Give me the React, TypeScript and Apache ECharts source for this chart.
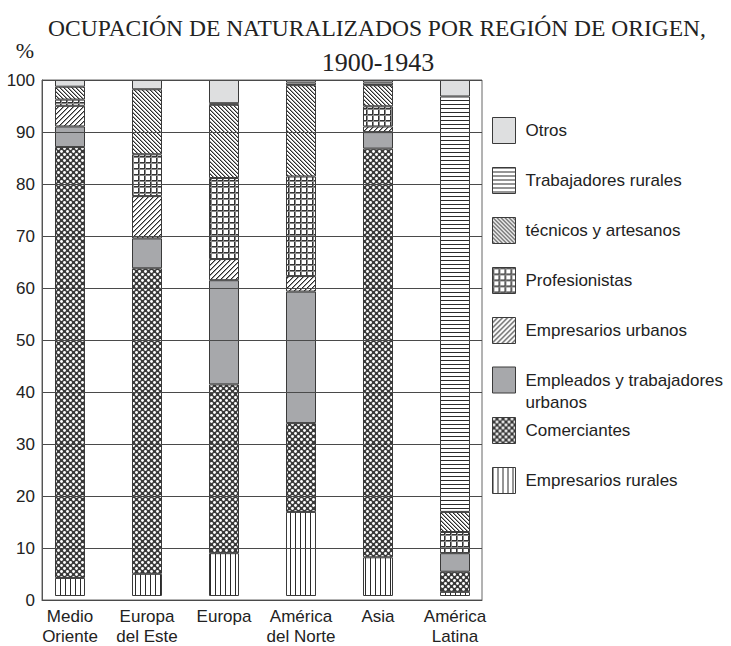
import React, { useEffect, useRef } from "react";
import * as echarts from "echarts";

const categories = ["Medio\nOriente", "Europa\ndel Este", "Europa", "América\ndel Norte", "Asia", "América\nLatina"];
const yTicks = [0, 10, 20, 30, 40, 50, 60, 70, 80, 90, 100];

// stacked from bottom to top
const empresariosRurales = [3.5, 4.3, 8.3, 16.3, 7.5, 0.8];
const comerciantes = [83.5, 59.2, 32.7, 17.2, 79.2, 3.9];
const empleados = [4.0, 5.8, 20.2, 25.5, 3.2, 3.6];
const empresariosUrbanos = [4.0, 8.2, 4.1, 3.0, 1.1, 0];
const profesionistas = [1.2, 8.1, 15.7, 19.3, 3.9, 4.1];
const tecnicos = [2.5, 12.6, 14.2, 17.7, 4.1, 3.9];
const trabajadoresRurales = [0, 0, 0.3, 0.5, 0.5, 80.5];
const otros = [1.3, 1.8, 4.5, 0.5, 0.5, 3.2];

const seriesNames = [
  "Empresarios rurales",
  "Comerciantes",
  "Empleados y trabajadores urbanos",
  "Empresarios urbanos",
  "Profesionistas",
  "técnicos y artesanos",
  "Trabajadores rurales",
  "Otros",
];
const seriesValues = [empresariosRurales, comerciantes, empleados, empresariosUrbanos, profesionistas, tecnicos, trabajadoresRurales, otros];
const legendOrder = [
  "Otros",
  "Trabajadores rurales",
  "técnicos y artesanos",
  "Profesionistas",
  "Empresarios urbanos",
  "Empleados y trabajadores urbanos",
  "Comerciantes",
  "Empresarios rurales",
];
const TWO_LINE = "Empleados y trabajadores urbanos";

function tile(size: number, draw: (ctx: CanvasRenderingContext2D, s: number) => void) {
  const c = document.createElement("canvas");
  c.width = size;
  c.height = size;
  const ctx = c.getContext("2d") as CanvasRenderingContext2D;
  ctx.fillStyle = "#ffffff";
  ctx.fillRect(0, 0, size, size);
  draw(ctx, size);
  return { image: c, repeat: "repeat", imageWidth: size, imageHeight: size } as any;
}

function makeFills() {
  const dark = "#2b2b2b";
  const vertical = tile(5, (ctx, s) => {
    ctx.fillStyle = dark;
    ctx.fillRect(0, 0, 1, s);
  });
  const cross = tile(6, (ctx, s) => {
    ctx.fillStyle = "#3a3a3a";
    ctx.fillRect(0, 0, s, s);
    ctx.fillStyle = "#ffffff";
    ctx.beginPath();
    ctx.arc(1.5, 1.5, 1.45, 0, Math.PI * 2);
    ctx.fill();
    ctx.beginPath();
    ctx.arc(4.5, 4.5, 1.45, 0, Math.PI * 2);
    ctx.fill();
  });
  const fwd = tile(5, (ctx, s) => {
    for (let i = 0; i < s; i++) {
      ctx.fillStyle = dark;
      ctx.fillRect(s - 1 - i, i, 1, 1);
      ctx.fillStyle = "#9a9a9a";
      ctx.fillRect((s - i) % s, i, 1, 1);
    }
  });
  const back = tile(4, (ctx, s) => {
    for (let i = 0; i < s; i++) {
      ctx.fillStyle = dark;
      ctx.fillRect(i, i, 1, 1);
      ctx.fillStyle = "#a0a0a0";
      ctx.fillRect((i + 1) % s, i, 1, 1);
    }
  });
  const grid = tile(6, (ctx, s) => {
    ctx.fillStyle = "#333";
    ctx.fillRect(0, 0, s, 1);
    ctx.fillRect(0, 0, 1, s);
    ctx.fillStyle = "#8a8a8a";
    ctx.fillRect(0, 1, s, 1);
    ctx.fillRect(1, 0, 1, s);
  });
  const horiz = tile(4, (ctx, s) => {
    ctx.fillStyle = dark;
    ctx.fillRect(0, 0, s, 1);
  });
  return [vertical, cross, "#a7a8ab", fwd, grid, back, horiz, "#dedfe0"];
}

export default function App() {
  const ref = useRef<HTMLDivElement>(null);
  useEffect(() => {
    if (!ref.current) return;
    const chart = echarts.init(ref.current, undefined, { renderer: "svg" });
    const fills = makeFills();
    const sans = "'Liberation Sans', Arial, sans-serif";
    const serif = "'Liberation Serif', 'Times New Roman', serif";

    const series = seriesNames.map((name, si) => ({
      name,
      type: "bar",
      stack: "total",
      barWidth: 30,
      xAxisIndex: 1,
      yAxisIndex: 1,
      itemStyle: { color: fills[si], borderColor: "#3a3a3a", borderWidth: 1 },
      data: seriesValues[si].map((v) => (v === 0 ? "-" : v)),
    }));

    const legends = legendOrder.map((name, i) => ({
      data: [name],
      orient: "vertical",
      left: 492,
      top: name === TWO_LINE ? 117 + i * 50 - 20 : 117 + i * 50,
      padding: 0,
      icon: "rect",
      itemWidth: 23,
      itemHeight: 26,
      selectedMode: false,
      itemStyle: { borderColor: "#3a3a3a", borderWidth: 1 },
      formatter: (n: string) => (n === TWO_LINE ? " \nEmpleados y trabajadores\nurbanos" : n),
      textStyle: {
        fontFamily: sans,
        fontSize: 17,
        color: "#222",
        lineHeight: 22,
        padding: [0, 0, 0, 5],
      },
    }));

    chart.setOption({
      animation: false,
      backgroundColor: "#ffffff",
      graphic: [
        {
          type: "text",
          x: 377,
          y: 28,
          style: {
            text: "OCUPACIÓN DE NATURALIZADOS POR REGIÓN DE ORIGEN,",
            fontFamily: serif,
            fontSize: 23.5,
            fill: "#222",
            align: "center",
            verticalAlign: "middle",
          },
        },
        {
          type: "text",
          x: 378,
          y: 62,
          style: { text: "1900-1943", fontFamily: serif, fontSize: 26, fill: "#222", align: "center", verticalAlign: "middle" },
        },
        {
          type: "text",
          x: 25,
          y: 50,
          style: { text: "%", fontFamily: serif, fontSize: 22, fill: "#222", align: "center", verticalAlign: "middle" },
        },
      ],
      legend: legends,
      grid: [
        {
          left: 42,
          top: 80,
          right: 249,
          bottom: 46,
          show: true,
          borderColor: "#666",
          borderWidth: 1,
          backgroundColor: "transparent",
        },
        {
          left: 31.5,
          top: 80,
          right: 237.5,
          bottom: 46,
        },
      ],
      xAxis: [
        {
          gridIndex: 0,
          type: "value",
          min: 0,
          max: 1,
          axisLine: { show: true, onZero: false, lineStyle: { color: "#555", width: 1 } },
          axisTick: { show: false },
          splitLine: { show: false },
          axisLabel: { show: false },
        },
        {
          gridIndex: 1,
          type: "category",
          data: categories,
          axisLine: { show: false },
          axisTick: { show: false },
          splitLine: { show: false },
          axisLabel: {
            interval: 0,
            fontFamily: sans,
            fontSize: 17,
            color: "#222",
            lineHeight: 20,
            margin: 10,
          },
        },
      ],
      yAxis: [
        {
          gridIndex: 0,
          type: "value",
          min: 0,
          max: 100,
          interval: 10,
          z: 3,
          axisLine: { show: true, onZero: false, lineStyle: { color: "#555", width: 1 } },
          axisTick: { show: false },
          splitLine: { show: true, lineStyle: { color: "#4a4a4a", width: 1 } },
          axisLabel: {
            customValues: yTicks,
            fontFamily: sans,
            fontSize: 17,
            color: "#222",
            margin: 7,
          },
        },
        {
          gridIndex: 1,
          type: "value",
          min: 0,
          max: 100,
          interval: 10,
          show: false,
          splitLine: { show: false },
        },
      ],
      series,
    } as any);
    return () => chart.dispose();
  }, []);
  return <div ref={ref} style={{ position: "fixed", left: 0, top: 0, width: 731, height: 646 }} />;
}
